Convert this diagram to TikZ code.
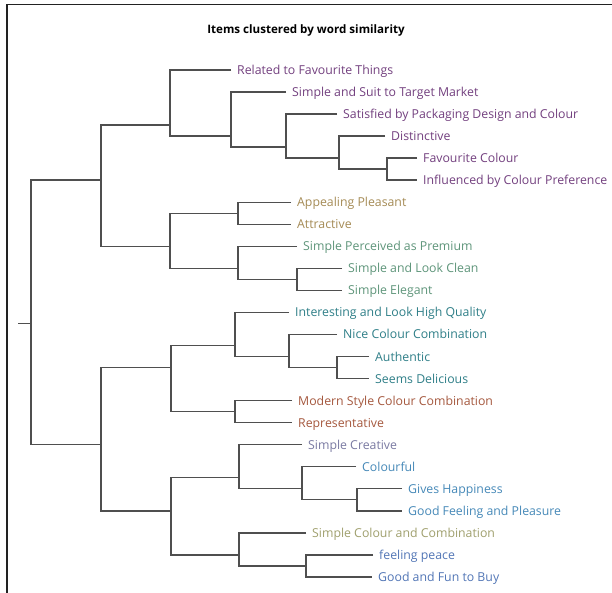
\documentclass[tikz,border=0pt]{standalone}
\usepackage{fontspec}
\setmainfont{Open Sans}
\definecolor{linecol}{HTML}{4F4F4F}
\definecolor{framecol}{HTML}{222222}
\definecolor{cpurple}{HTML}{73407F}
\definecolor{cgold}{HTML}{A58B55}
\definecolor{cgreen}{HTML}{5E957A}
\definecolor{cteal}{HTML}{2F7F88}
\definecolor{cbrown}{HTML}{A5583E}
\definecolor{clav}{HTML}{7A7AA2}
\definecolor{cblue}{HTML}{4689B8}
\definecolor{colive}{HTML}{A0A06E}
\definecolor{cdblue}{HTML}{5276B6}
\tikzset{
  link/.style={draw=linecol, line width=1.4pt},
  leaf/.style={anchor=west, inner xsep=6pt, inner ysep=0pt, text height=9pt, text depth=0pt, font=\fontsize{12.3}{14}\selectfont},
  frameline/.style={draw=framecol, line width=1.8pt}
}
\begin{document}
\begin{tikzpicture}[x=1pt,y=-1pt]
\useasboundingbox (0,0) rectangle (612,593);
\fill[white] (0,0) rectangle (612,593);
\draw[frameline] (7,593) -- (7,4.5) -- (612,4.5);
\node[font=\bfseries\fontsize{11.6}{13}\selectfont] (title) at (306,30) {Items clustered by word similarity};
% leaves
\node[leaf, text=cpurple] (l1) at (231,70) {Related to Favourite Things};
\node[leaf, text=cpurple] (l2) at (286,92.04) {Simple and Suit to Target Market};
\node[leaf, text=cpurple] (l3) at (337,114.08) {Satisfied by Packaging Design and Colour};
\node[leaf, text=cpurple] (l4) at (385,136.12) {Distinctive};
\node[leaf, text=cpurple] (l5) at (417,158.16) {Favourite Colour};
\node[leaf, text=cpurple] (l6) at (417,180.2) {Influenced by Colour Preference};
\node[leaf, text=cgold] (l7) at (291,202.24) {Appealing Pleasant};
\node[leaf, text=cgold] (l8) at (291,224.28) {Attractive};
\node[leaf, text=cgreen] (l9) at (297,246.32) {Simple Perceived as Premium};
\node[leaf, text=cgreen] (l10) at (342,268.36) {Simple and Look Clean};
\node[leaf, text=cgreen] (l11) at (342,290.4) {Simple Elegant};
\node[leaf, text=cteal] (l12) at (289,312.44) {Interesting and Look High Quality};
\node[leaf, text=cteal] (l13) at (337,334.48) {Nice Colour Combination};
\node[leaf, text=cteal] (l14) at (369,356.52) {Authentic};
\node[leaf, text=cteal] (l15) at (369,378.56) {Seems Delicious};
\node[leaf, text=cbrown] (l16) at (292,400.6) {Modern Style Colour Combination};
\node[leaf, text=cbrown] (l17) at (292,422.64) {Representative};
\node[leaf, text=clav] (l18) at (302,444.68) {Simple Creative};
\node[leaf, text=cblue] (l19) at (356,466.72) {Colourful};
\node[leaf, text=cblue] (l20) at (402,488.76) {Gives Happiness};
\node[leaf, text=cblue] (l21) at (402,510.8) {Good Feeling and Pleasure};
\node[leaf, text=colive] (l22) at (306,532.84) {Simple Colour and Combination};
\node[leaf, text=cdblue] (l23) at (373,554.88) {feeling peace};
\node[leaf, text=cdblue] (l24) at (372,576.92) {Good and Fun to Buy};
% internal nodes
\coordinate (A1e) at (387,169.18);
\coordinate (A1d) at (339,158.16);
\coordinate (A1c) at (286,147.14);
\coordinate (A1b) at (231,136.12);
\coordinate (A1) at (170,125.1);
\coordinate (A2a) at (238,213.26);
\coordinate (A2c) at (297,279.38);
\coordinate (A2b) at (238,268.36);
\coordinate (A2) at (170,246.32);
\coordinate (A) at (101,180.2);
\coordinate (B1d) at (337,367.54);
\coordinate (B1c) at (289,356.52);
\coordinate (B1a) at (235,345.5);
\coordinate (B1b) at (235,411.62);
\coordinate (B1) at (171,367.54);
\coordinate (B2d) at (357,499.78);
\coordinate (B2c) at (302,488.76);
\coordinate (B2a) at (239,477.74);
\coordinate (B2e) at (306,565.9);
\coordinate (B2b) at (239,554.88);
\coordinate (B2) at (171,510.8);
\coordinate (B) at (101,444.68);
\coordinate (R) at (31,323.5);
\coordinate (stub) at (18,323.5);
% brackets
\draw[link] (l5.west) -| (A1e) |- (l6.west);
\draw[link] (l4.west) -| (A1d) |- (A1e);
\draw[link] (l3.west) -| (A1c) |- (A1d);
\draw[link] (l2.west) -| (A1b) |- (A1c);
\draw[link] (l1.west) -| (A1) |- (A1b);
\draw[link] (l7.west) -| (A2a) |- (l8.west);
\draw[link] (l10.west) -| (A2c) |- (l11.west);
\draw[link] (l9.west) -| (A2b) |- (A2c);
\draw[link] (A2a) -| (A2) |- (A2b);
\draw[link] (A1) -| (A) |- (A2);
\draw[link] (l14.west) -| (B1d) |- (l15.west);
\draw[link] (l13.west) -| (B1c) |- (B1d);
\draw[link] (l12.west) -| (B1a) |- (B1c);
\draw[link] (l16.west) -| (B1b) |- (l17.west);
\draw[link] (B1a) -| (B1) |- (B1b);
\draw[link] (l20.west) -| (B2d) |- (l21.west);
\draw[link] (l19.west) -| (B2c) |- (B2d);
\draw[link] (l18.west) -| (B2a) |- (B2c);
\draw[link] (l23.west) -| (B2e) |- (l24.west);
\draw[link] (l22.west) -| (B2b) |- (B2e);
\draw[link] (B2a) -| (B2) |- (B2b);
\draw[link] (B1) -| (B) |- (B2);
\draw[link] (A) -| (R) |- (B);
\draw[link] (stub) -- (R);
\end{tikzpicture}
\end{document}
